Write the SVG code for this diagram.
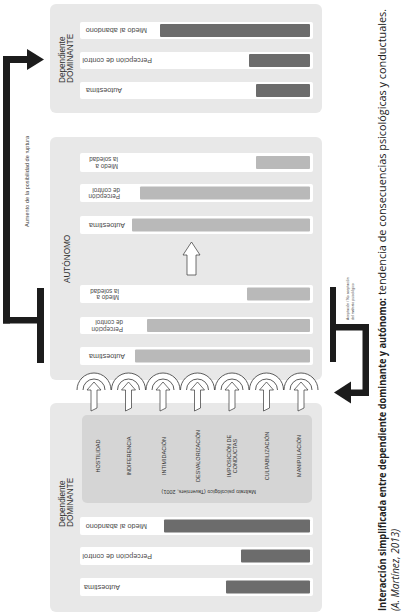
<svg xmlns="http://www.w3.org/2000/svg" xmlns:xlink="http://www.w3.org/1999/xlink" width="408" height="616" viewBox="0 0 408 616">
<style>
.box{fill:#e8e8e8}
.inner{fill:#d5d5d5}
.row{fill:#ffffff}
.dk{fill:#6c6c6c}
.lt{fill:#b9b9b9}
.lbl{font-family:"Liberation Sans",Arial,sans-serif;fill:#4a4a4a;font-size:7.2px}
.lbl2{font-family:"Liberation Sans",Arial,sans-serif;fill:#4a4a4a;font-size:6.3px}
.ttl{font-family:"Liberation Sans",Arial,sans-serif;fill:#333;font-size:8.2px}
.mal{font-family:"Liberation Sans",Arial,sans-serif;fill:#333;font-size:5.5px}
.note{font-family:"Liberation Sans",Arial,sans-serif;fill:#444}
.cap{font-family:"Open Sans","Liberation Sans",sans-serif;fill:#222;font-size:10px}
.conn{fill:#1c1c1c}
.arc{fill:#fff;stroke:#333;stroke-width:0.8}
.arc2{fill:none;stroke:#333;stroke-width:0.8}
.arr{fill:#fff;stroke:#333;stroke-width:0.7}
</style>
<defs>
<g id="arch">
<path class="arc" d="M-17 390 A17 17 0 0 1 17 390"/>
<path class="arc2" d="M-11 390 A11 11 0 0 1 11 390"/>
<polygon class="arr" points="0,382 7,390 3,390 3,408 -3,411 -3,390 -7,390"/>
</g>
</defs>

<g id="top-dominante">
<rect class="box" x="50" y="4" width="272" height="109" rx="6"/>
<text class="ttl" transform="translate(65,83) rotate(-90)">Dependiente<tspan x="0" dy="8">DOMINANTE</tspan></text>
<rect class="row" x="80" y="22" width="233" height="17" rx="2"/>
<rect class="dk" x="160" y="24" width="150" height="13" rx="1"/>
<text class="lbl" transform="translate(147,28) rotate(180)">Miedo al abandono</text>
<rect class="row" x="80" y="52" width="233" height="17" rx="2"/>
<rect class="dk" x="249" y="54" width="61" height="13" rx="1"/>
<text class="lbl" transform="translate(152,58) rotate(180)">Percepción de control</text>
<rect class="row" x="80" y="82" width="233" height="17" rx="2"/>
<rect class="dk" x="256" y="84" width="54" height="13" rx="1"/>
<text class="lbl" transform="translate(122,88) rotate(180)">Autoestima</text>
</g>

<g id="autonomo">
<rect class="box" x="50" y="137" width="272" height="243" rx="6"/>
<text class="ttl" transform="translate(70,283) rotate(-90)">AUTÓNOMO</text>
<rect class="row" x="80" y="153" width="233" height="19" rx="2"/>
<rect class="lt" x="256" y="156" width="54" height="13" rx="1"/>
<text class="lbl2" transform="translate(118,163.5) rotate(180)">Miedo a<tspan x="0" dy="6.5">la soledad</tspan></text>
<rect class="row" x="80" y="184" width="233" height="18" rx="2"/>
<rect class="lt" x="140" y="186.5" width="170" height="13" rx="1"/>
<text class="lbl2" transform="translate(120,194) rotate(180)">Percepción<tspan x="0" dy="6.5">de control</tspan></text>
<rect class="row" x="80" y="216" width="233" height="18" rx="2"/>
<rect class="lt" x="132" y="218.5" width="178" height="13" rx="1"/>
<text class="lbl" transform="translate(125,222.5) rotate(180)">Autoestima</text>
<polygon class="arr" points="191.5,242 200,255 196,255 196,275 187,275 187,255 183,255"/>
<rect class="row" x="80" y="285" width="233" height="18" rx="2"/>
<rect class="lt" x="247" y="287.5" width="63" height="13" rx="1"/>
<text class="lbl2" transform="translate(119,295) rotate(180)">Miedo a<tspan x="0" dy="6.5">la soledad</tspan></text>
<rect class="row" x="80" y="317" width="233" height="17" rx="2"/>
<rect class="lt" x="147" y="319" width="163" height="13" rx="1"/>
<text class="lbl2" transform="translate(123,326.5) rotate(180)">Percepción<tspan x="0" dy="6.5">de control</tspan></text>
<rect class="row" x="80" y="347" width="233" height="18" rx="2"/>
<rect class="lt" x="135" y="349.5" width="175" height="13" rx="1"/>
<text class="lbl" transform="translate(125,353.5) rotate(180)">Autoestima</text>
</g>

<g id="bottom-dominante">
<rect class="box" x="50" y="403" width="272" height="209" rx="6"/>
<text class="ttl" transform="translate(65,527) rotate(-90)">Dependiente<tspan x="0" dy="8">DOMINANTE</tspan></text>
<rect class="inner" x="82" y="415" width="230" height="88" rx="5"/>
<text class="mal" text-anchor="middle" transform="translate(100,456) rotate(-90)">HOSTILIDAD</text>
<text class="mal" text-anchor="middle" transform="translate(130.5,456) rotate(-90)">INDIFERENCIA</text>
<text class="mal" text-anchor="middle" transform="translate(166,456) rotate(-90)">INTIMIDACIÓN</text>
<text class="mal" text-anchor="middle" transform="translate(200,456) rotate(-90)">DESVALORIZACIÓN</text>
<text class="mal" text-anchor="middle" transform="translate(231,456) rotate(-90)">IMPOSICIÓN DE<tspan x="0" dy="5.8">CONDUCTAS</tspan></text>
<text class="mal" text-anchor="middle" transform="translate(269,456) rotate(-90)">CULPABILIZACIÓN</text>
<text class="mal" text-anchor="middle" transform="translate(301,456) rotate(-90)">MANIPULACIÓN</text>
<text class="mal" font-size="6.2" transform="translate(256,490) rotate(180)">Maltrato psicológico (Taverniers, 2001)</text>
<rect class="row" x="80" y="517" width="233" height="18" rx="2"/>
<rect class="dk" x="164" y="519.5" width="146" height="13" rx="1"/>
<text class="lbl" transform="translate(147,523.5) rotate(180)">Miedo al abandono</text>
<rect class="row" x="80" y="547" width="233" height="18" rx="2"/>
<rect class="dk" x="241" y="549.5" width="69" height="13" rx="1"/>
<text class="lbl" transform="translate(152,553.5) rotate(180)">Percepción de control</text>
<rect class="row" x="80" y="578" width="233" height="18" rx="2"/>
<rect class="dk" x="226" y="580.5" width="84" height="13" rx="1"/>
<text class="lbl" transform="translate(120,584.5) rotate(180)">Autoestima</text>
</g>

<g id="influencias">
<use xlink:href="#arch" href="#arch" transform="translate(94,0)"/>
<use xlink:href="#arch" href="#arch" transform="translate(128.5,0)"/>
<use xlink:href="#arch" href="#arch" transform="translate(163,0)"/>
<use xlink:href="#arch" href="#arch" transform="translate(197.5,0)"/>
<use xlink:href="#arch" href="#arch" transform="translate(232,0)"/>
<use xlink:href="#arch" href="#arch" transform="translate(266.5,0)"/>
<use xlink:href="#arch" href="#arch" transform="translate(301,0)"/>
</g>

<g id="connectors">
<g id="ruptura">
<rect class="conn" x="37" y="288" width="7" height="75"/>
<rect class="conn" x="3" y="317" width="38" height="6.5"/>
<rect class="conn" x="3" y="56" width="7" height="267.5"/>
<rect class="conn" x="3" y="56" width="26" height="7"/>
<polygon class="conn" points="27,49 44,59.5 27,70"/>
<text class="note" font-size="5.6" transform="translate(28.5,227) rotate(-90)">Aumento de la posibilidad de ruptura</text>
</g>
<g id="aceptacion">
<rect class="conn" x="330" y="287" width="6" height="75"/>
<rect class="conn" x="333" y="324" width="36" height="6.5"/>
<rect class="conn" x="362.5" y="324" width="6.5" height="72"/>
<rect class="conn" x="348" y="389.5" width="21" height="6.5"/>
<polygon class="conn" points="334,392.5 351,381.5 351,403.5"/>
<text class="note" font-size="3.5" transform="translate(349,320) rotate(-90)">Aceptación / No aceptación<tspan x="0" dy="4.6">del maltrato psicológico</tspan></text>
</g>
</g>

<g id="caption">
<text class="cap" font-weight="bold" textLength="313" lengthAdjust="spacingAndGlyphs" transform="translate(386,611) rotate(-90)">Interacción simplificada entre dependiente dominante y autónomo:</text>
<text class="cap" textLength="286" lengthAdjust="spacingAndGlyphs" transform="translate(386,295) rotate(-90)">tendencia de consecuencias psicológicas y conductuales.</text>
<text class="cap" font-style="italic" font-size="9.5" textLength="82" lengthAdjust="spacingAndGlyphs" transform="translate(399,611) rotate(-90)">(A. Martínez, 2013)</text>
</g>
</svg>
